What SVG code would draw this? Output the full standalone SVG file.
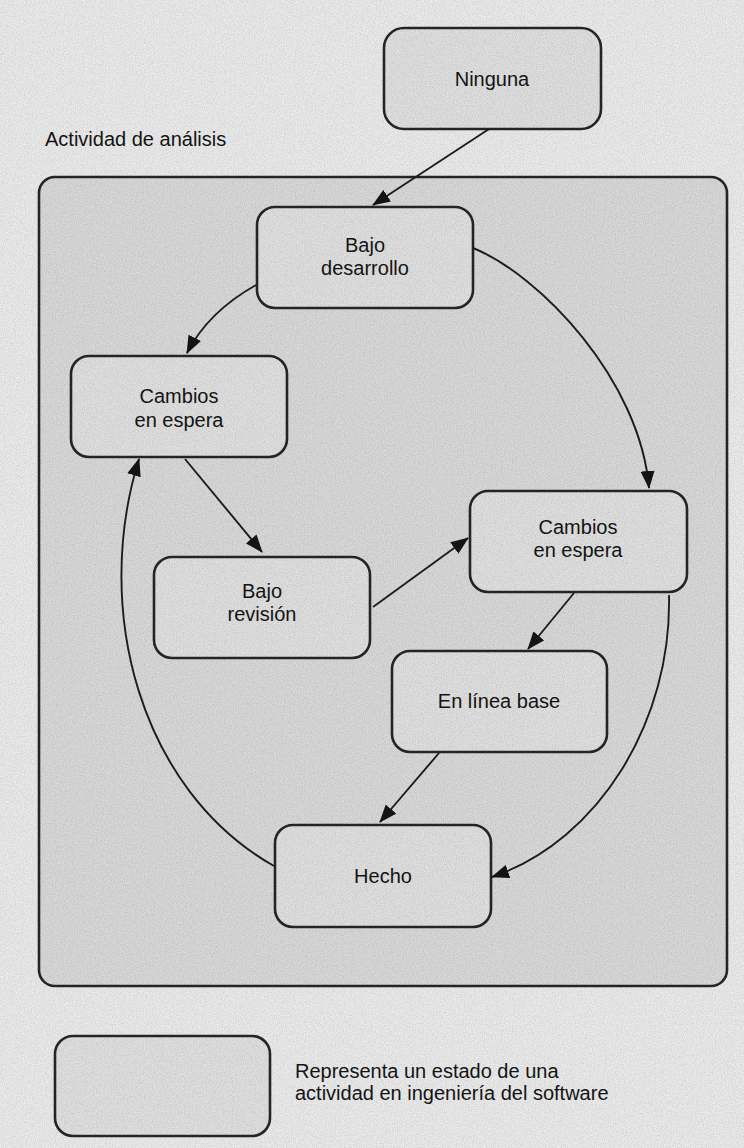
<svg xmlns="http://www.w3.org/2000/svg" width="744" height="1148" viewBox="0 0 744 1148">
  <style>
    .node { fill: #e0e0e0; stroke: #262626; stroke-width: 2.6; }
    .frame { fill: #d9d9d9; stroke: #262626; stroke-width: 2.6; }
    .lbl { font-family: "Liberation Sans", Arial, sans-serif; font-size: 20px; fill: #151515; text-anchor: middle; }
    .txt { font-family: "Liberation Sans", Arial, sans-serif; font-size: 20px; fill: #151515; }
    .edge { fill: none; stroke: #1e1e1e; stroke-width: 1.9; marker-end: url(#arrow); }
  </style>
  <defs>
    <marker id="arrow" viewBox="0 0 18 14" refX="17" refY="7" markerWidth="18" markerHeight="14" markerUnits="userSpaceOnUse" orient="auto">
      <path d="M0,0 L18,7 L0,14 Z" fill="#151515"/>
    </marker>
    <filter id="grain" x="0" y="0" width="100%" height="100%">
      <feTurbulence type="fractalNoise" baseFrequency="0.9" numOctaves="2" seed="3" result="n"/>
      <feColorMatrix type="matrix" values="0 0 0 0 0  0 0 0 0 0  0 0 0 0 0  0 0 0.6 0 -0.2"/>
    </filter>
  </defs>

  <rect x="0" y="0" width="744" height="1148" fill="#ebebeb"/>

  <g id="activity-frame">
    <rect class="frame" x="39" y="177" width="688" height="809" rx="16"/>
    <text class="txt" x="45" y="146">Actividad de análisis</text>
  </g>

  <g id="node-ninguna">
    <rect class="node" x="384" y="28" width="217" height="101" rx="20"/>
    <text class="lbl" x="492" y="86">Ninguna</text>
  </g>

  <g id="node-bajo-desarrollo">
    <rect class="node" x="257" y="207" width="216" height="101" rx="18"/>
    <text class="lbl" x="365" y="252">Bajo</text>
    <text class="lbl" x="365" y="275">desarrollo</text>
  </g>

  <g id="node-cambios-izq">
    <rect class="node" x="71" y="356" width="216" height="101" rx="18"/>
    <text class="lbl" x="179" y="403">Cambios</text>
    <text class="lbl" x="179" y="427">en espera</text>
  </g>

  <g id="node-bajo-revision">
    <rect class="node" x="154" y="557" width="216" height="101" rx="18"/>
    <text class="lbl" x="262" y="598">Bajo</text>
    <text class="lbl" x="262" y="621">revisión</text>
  </g>

  <g id="node-cambios-der">
    <rect class="node" x="470" y="491" width="217" height="101" rx="18"/>
    <text class="lbl" x="578" y="534">Cambios</text>
    <text class="lbl" x="578" y="557">en espera</text>
  </g>

  <g id="node-linea-base">
    <rect class="node" x="392" y="651" width="215" height="101" rx="18"/>
    <text class="lbl" x="499" y="708">En línea base</text>
  </g>

  <g id="node-hecho">
    <rect class="node" x="275" y="825" width="216" height="102" rx="18"/>
    <text class="lbl" x="383" y="883">Hecho</text>
  </g>

  <g id="connectors">
    <path class="edge" d="M489,129 L373,205"/>
    <path class="edge" d="M256,285 Q208,312 187,353"/>
    <path class="edge" d="M473,248 C540,275 640,380 649,488"/>
    <path class="edge" d="M185,459 L262,552"/>
    <path class="edge" d="M373,607 L468,538"/>
    <path class="edge" d="M574,593 L528,649"/>
    <path class="edge" d="M439,753 L380,822"/>
    <path class="edge" d="M669,595 C672,720 600,840 492,877"/>
    <path class="edge" d="M274,866 C140,790 92,610 139,459"/>
  </g>

  <g id="legend">
    <rect class="node" x="55" y="1036" width="215" height="100" rx="18"/>
    <text class="txt" x="295" y="1078">Representa un estado de una</text>
    <text class="txt" x="295" y="1100">actividad en ingeniería del software</text>
  </g>

  <rect x="0" y="0" width="744" height="1148" filter="url(#grain)" opacity="0.35" pointer-events="none"/>
</svg>
